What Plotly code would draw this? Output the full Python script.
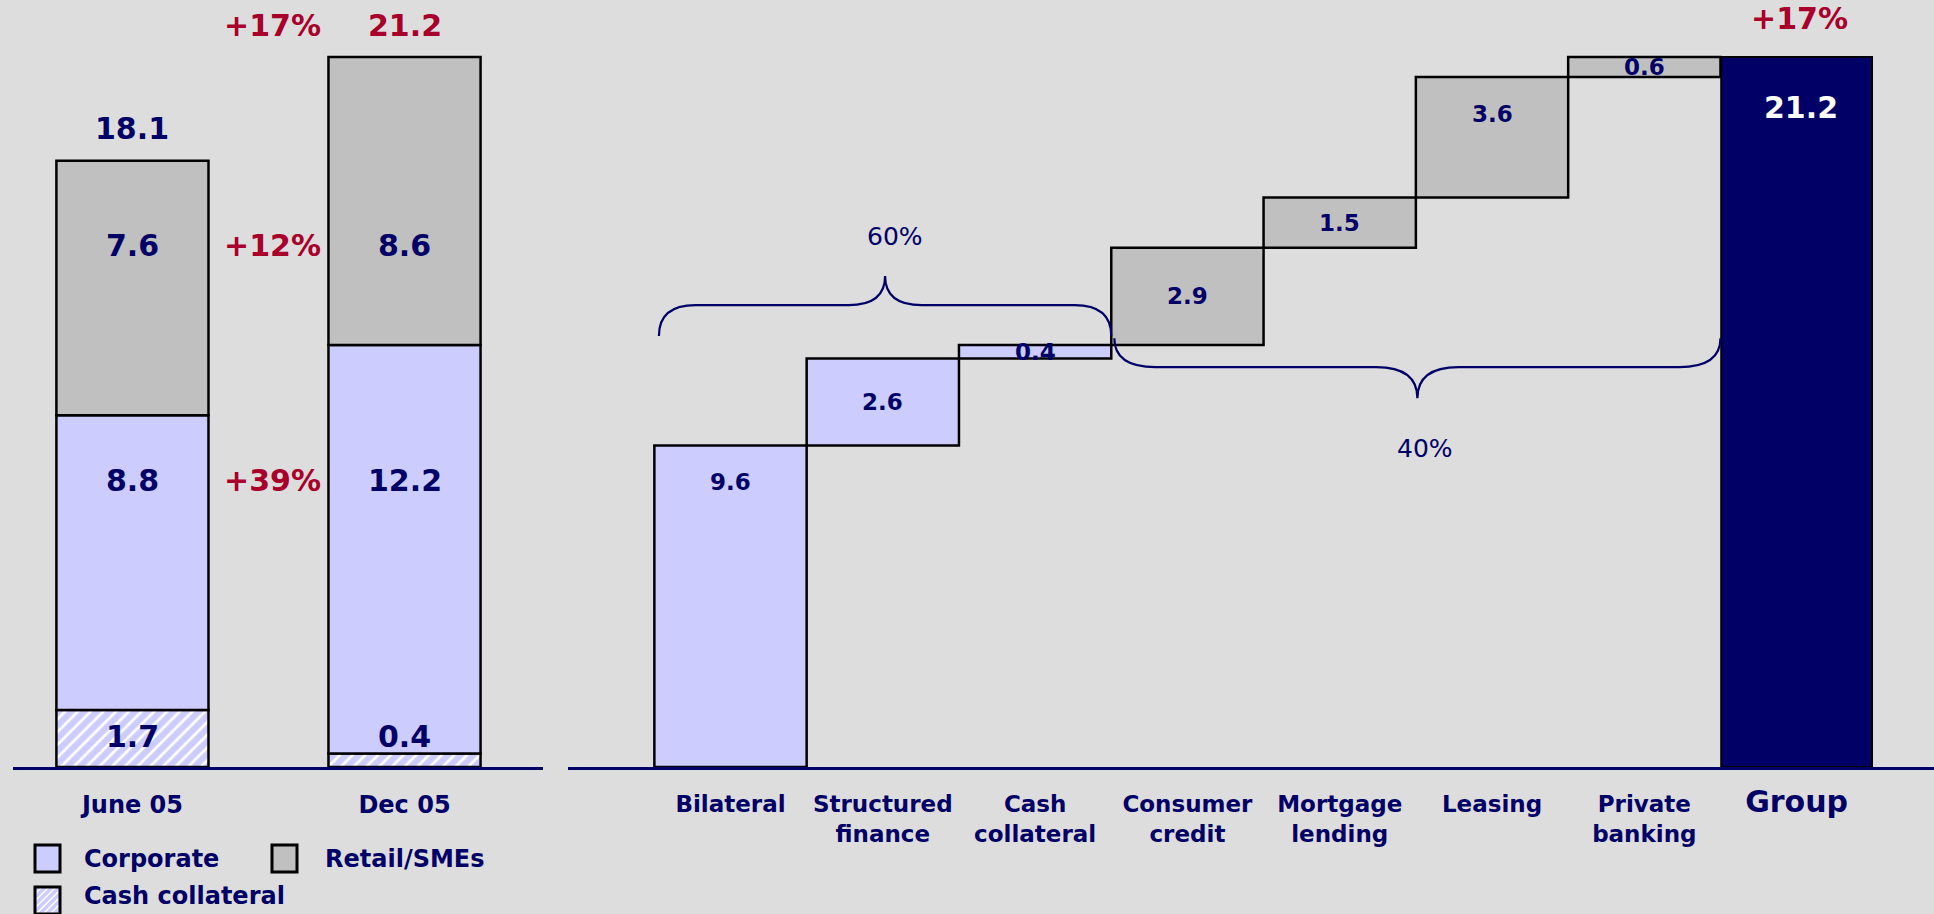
import plotly.graph_objects as go
import numpy as np

# ---------------- data ----------------
periods = ["June 05", "Dec 05"]
cash_collateral = [1.7, 0.4]
corporate = [8.8, 12.2]
retail_smes = [7.6, 8.6]
period_totals = [18.1, 21.2]
growth_total = "+17%"
growth_retail = "+12%"
growth_corporate = "+39%"

segments = ["Bilateral", "Structured<br>finance", "Cash<br>collateral", "Consumer<br>credit",
            "Mortgage<br>lending", "Leasing", "Private<br>banking"]
segment_values = [9.6, 2.6, 0.4, 2.9, 1.5, 3.6, 0.6]
segment_group = ["Corporate", "Corporate", "Corporate", "Retail", "Retail", "Retail", "Retail"]
group_label = "Group"
group_total = 21.2
group_growth = "+17%"
share_labels = ["60%", "40%"]
legend_labels = ["Corporate", "Retail/SMEs", "Cash collateral"]

# ---------------- styles ----------------
BG = "#DDDDDD"
LAV = "#CCCCFF"
GRAY = "#C0C0C0"
NAVY = "#000066"
RED = "#A8002A"
FONT = "DejaVu Sans"
W, H = 1934, 914
BOTTOM = 147
PLOT_H = H - BOTTOM
YMAX = 22.9

def px_x(px):
    return px / W

def px_y(py):
    return (PLOT_H - py) / PLOT_H

fig = go.Figure()

# ---------------- left: stacked bars ----------------
xl = list(range(len(periods)))
cash_base = [0] * len(periods)
corp_base = list(cash_collateral)
ret_base = [c + k for c, k in zip(cash_collateral, corporate)]
outline = dict(color="black", width=2.5)
BW = 0.559

fig.add_trace(go.Bar(x=xl, y=cash_collateral, base=cash_base, width=BW,
                     marker=dict(color=LAV, line=outline,
                                 pattern=dict(shape="/", fgcolor="white", bgcolor=LAV,
                                              size=9, solidity=0.3, fillmode="replace")),
                     xaxis="x", yaxis="y", name="Cash collateral"))
fig.add_trace(go.Bar(x=xl, y=corporate, base=corp_base, width=BW,
                     marker=dict(color=LAV, line=outline),
                     xaxis="x", yaxis="y", name="Corporate"))
fig.add_trace(go.Bar(x=xl, y=retail_smes, base=ret_base, width=BW,
                     marker=dict(color=GRAY, line=outline),
                     xaxis="x", yaxis="y", name="Retail/SMEs"))

# ---------------- right: waterfall ----------------
vals = np.array(segment_values)
tops = np.cumsum(vals)
bases = tops - vals
xr = list(range(len(segments)))
seg_colors = [LAV if g == "Corporate" else GRAY for g in segment_group]
fig.add_trace(go.Bar(x=xr, y=segment_values, base=bases.tolist(), width=1.0,
                     marker=dict(color=seg_colors, line=outline),
                     xaxis="x2", yaxis="y2"))
gx = len(segments)
fig.add_trace(go.Bar(x=[gx], y=[group_total], base=[0], width=0.99,
                     marker=dict(color=NAVY, line=dict(color="black", width=2)),
                     xaxis="x2", yaxis="y2"))

ann = []
def A(x, y, text, size, color, xref="x", yref="y", weight="bold", **kw):
    d = dict(x=x, y=y, text=text, xref=xref, yref=yref, showarrow=False,
             font=dict(family=FONT, size=size, color=color, weight=weight))
    d.update(kw)
    ann.append(d)

# left labels
ROW_RET, ROW_CORP, ROW_CASH = 15.58, 8.54, 0.9
tot_colors = [NAVY, RED]
for i in xl:
    A(i, period_totals[i] + 0.95, f"{period_totals[i]:.1f}", 30, tot_colors[i])
    A(i, ROW_RET, f"{retail_smes[i]:.1f}", 30, NAVY)
    A(i, ROW_CORP, f"{corporate[i]:.1f}", 30, NAVY)
    A(i, ROW_CASH, f"{cash_collateral[i]:.1f}", 30, NAVY)
mid = 0.513
A(mid, period_totals[1] + 0.95, growth_total, 30, RED)
A(mid, ROW_RET, growth_retail, 30, RED)
A(mid, ROW_CORP, growth_corporate, 30, RED)

# right labels
for i, v in enumerate(segment_values):
    yv = bases[i] + v / 2 if v < 3 else tops[i] - 1.1
    A(i, yv, f"{v:.1f}", 23, NAVY, xref="x2", yref="y2")
A(gx + 0.03, group_total - 1.5, f"{group_total:.1f}", 30, "white", xref="x2", yref="y2")
A(gx + 0.02, group_total + 1.15, group_growth, 30, RED, xref="x2", yref="y2")

# braces
corp_sum = float(tops[2])
def brace(x0, x1, ye, ym, yt, r):
    xm = (x0 + x1) / 2
    return (f"M {x0},{ye} Q {x0},{ym} {x0 + r},{ym} L {xm - r},{ym} Q {xm},{ym} {xm},{yt} "
            f"Q {xm},{ym} {xm + r},{ym} L {x1 - r},{ym} Q {x1},{ym} {x1},{ye}")
shapes = []
shapes.append(dict(type="path", xref="x2", yref="y2",
                   path=brace(-0.47, 2.5, corp_sum + 0.27, corp_sum + 1.19, corp_sum + 2.06, 0.24),
                   line=dict(color=NAVY, width=2.2)))
shapes.append(dict(type="path", xref="x2", yref="y2",
                   path=brace(2.52, 6.5, corp_sum + 0.2, corp_sum - 0.66, corp_sum - 1.59, 0.27),
                   line=dict(color=NAVY, width=2.2)))
A(1.08, corp_sum + 3.25, share_labels[0], 25, NAVY, xref="x2", yref="y2", weight="normal")
A(4.56, corp_sum - 3.1, share_labels[1], 25, NAVY, xref="x2", yref="y2", weight="normal")

# ---------------- manual legend ----------------
sw = [(35, 845, LAV), (272, 845, GRAY), (35, 887, LAV)]
txt_pos = [(83, 859), (324, 859), (83, 896)]
for k, (sx, sy, col) in enumerate(sw):
    x0, x1, y0, y1 = px_x(sx), px_x(sx + 25), px_y(sy + 27), px_y(sy)
    shapes.append(dict(type="rect", xref="paper", yref="paper", x0=x0, x1=x1, y0=y0, y1=y1,
                       fillcolor=col, line=dict(width=0)))
    if k == 2:
        for off in range(-20, 30, 7):
            ax0, ay0 = sx + max(off, 0), sy + 27 - max(-off, 0)
            length = min(25 - max(off, 0), 27 - max(-off, 0))
            shapes.append(dict(type="line", xref="paper", yref="paper",
                               x0=px_x(ax0), y0=px_y(ay0), x1=px_x(ax0 + length), y1=px_y(ay0 - length),
                               line=dict(color="white", width=1.5)))
    shapes.append(dict(type="rect", xref="paper", yref="paper", x0=x0, x1=x1, y0=y0, y1=y1,
                       fillcolor="rgba(0,0,0,0)", line=dict(color="black", width=3)))
    tx, ty = txt_pos[k]
    A(px_x(tx), px_y(ty), legend_labels[k], 24, NAVY, xref="paper", yref="paper",
      xanchor="left", yanchor="middle", borderpad=0)

ticks_right = segments + [f"<span style='font-size:30px'>{group_label}</span>"]

fig.update_layout(
    width=W, height=H, autosize=False,
    paper_bgcolor=BG, plot_bgcolor=BG,
    margin=dict(l=0, r=0, t=0, b=BOTTOM, pad=0),
    barmode="overlay", showlegend=False,
    xaxis=dict(domain=[px_x(13), px_x(543)], range=[-0.439, 1.509], anchor="y",
               tickvals=xl, ticktext=periods, showline=True, linecolor=NAVY, linewidth=3,
               showgrid=False, zeroline=False, ticks="outside", ticklen=14,
               tickcolor="rgba(0,0,0,0)",
               tickfont=dict(family=FONT, size=24, color=NAVY, weight="bold")),
    xaxis2=dict(domain=[px_x(568), 1.0], range=[-1.067, 7.902], anchor="y2",
                tickvals=list(range(len(segments) + 1)), ticktext=ticks_right,
                showline=True, linecolor=NAVY, linewidth=3,
                showgrid=False, zeroline=False, ticks="outside", ticklen=14,
                tickcolor="rgba(0,0,0,0)",
                tickfont=dict(family=FONT, size=23, color=NAVY, weight="bold")),
    yaxis=dict(range=[0, YMAX], visible=False, anchor="x"),
    yaxis2=dict(range=[0, YMAX], visible=False, anchor="x2"),
    annotations=ann, shapes=shapes,
)

fig.write_html("out.html")
